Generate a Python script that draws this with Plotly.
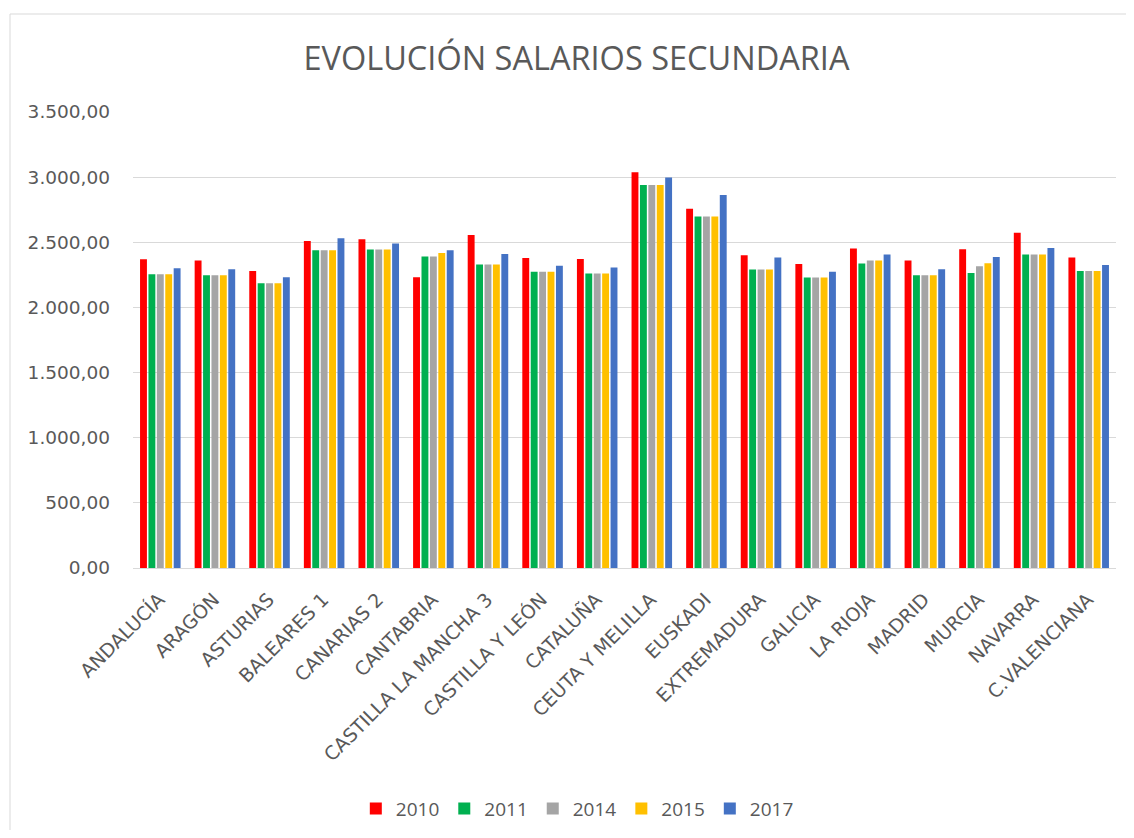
import plotly.graph_objects as go

categories = ["ANDALUCÍA", "ARAGÓN", "ASTURIAS", "BALEARES 1", "CANARIAS 2", "CANTABRIA",
              "CASTILLA LA MANCHA 3", "CASTILLA Y LEÓN", "CATALUÑA", "CEUTA Y MELILLA",
              "EUSKADI", "EXTREMADURA", "GALICIA", "LA RIOJA", "MADRID", "MURCIA",
              "NAVARRA", "C.VALENCIANA"]

s2010 = [2370, 2360, 2280, 2510, 2523, 2232, 2556, 2380, 2372, 3038, 2758, 2400, 2334, 2452, 2360, 2446, 2574, 2383]
s2011 = [2255, 2247, 2186, 2439, 2444, 2390, 2329, 2273, 2260, 2939, 2697, 2291, 2230, 2337, 2247, 2265, 2406, 2280]
s2014 = [2255, 2247, 2186, 2439, 2444, 2390, 2329, 2273, 2260, 2939, 2697, 2291, 2230, 2360, 2247, 2316, 2406, 2280]
s2015 = [2255, 2247, 2186, 2439, 2444, 2418, 2329, 2273, 2260, 2939, 2697, 2291, 2230, 2360, 2247, 2339, 2406, 2280]
s2017 = [2301, 2293, 2232, 2531, 2490, 2439, 2411, 2319, 2306, 2998, 2862, 2383, 2273, 2406, 2293, 2388, 2456, 2326]

series = [("2010", s2010, "#FF0000"), ("2011", s2011, "#00B050"), ("2014", s2014, "#A5A5A5"),
          ("2015", s2015, "#FFC000"), ("2017", s2017, "#4472C4")]

TFONT = "Open Sans, sans-serif"
FONT = "DejaVu Sans, Open Sans, sans-serif"
LFONT = "Open Sans, sans-serif"
TXT = "#595959"

W, H = 1118, 822
L, T = 125, 104
PW, PH = 983, 456
R = W - L - PW
B = H - T - PH

fig = go.Figure()
for name, vals, col in series:
    fig.add_trace(go.Bar(x=categories, y=vals, name=name, marker_color=col,
                         marker_line_width=0))

fig.update_layout(
    width=W, height=H,
    paper_bgcolor="white", plot_bgcolor="white",
    margin=dict(l=L, r=R, t=T, b=B, autoexpand=False),
    title=dict(text="EVOLUCIÓN SALARIOS SECUNDARIA", x=568.5 / W, xanchor="center",
               y=1 - 51 / H, yanchor="middle",
               font=dict(family=TFONT, size=32.5, color=TXT)),
    barmode="group", bargap=0.23, bargroupgap=0.18,
    separators=",.",
    font=dict(family=FONT, color=TXT, size=17),
    legend=dict(orientation="h", x=0.452, xanchor="center", y=-0.528, yanchor="middle",
                font=dict(family=LFONT, size=19, color=TXT), itemwidth=30,
                traceorder="normal"),
    showlegend=True,
)
fig.update_yaxes(range=[0, 3500], dtick=500, tickformat=",.2f", showgrid=True,
                 gridcolor="#D9D9D9", gridwidth=1, zeroline=False, showline=False,
                 ticks="", tickfont=dict(size=18.5, color=TXT), ticklabelstandoff=22)
fig.update_xaxes(tickangle=-45, showline=True, linecolor="#D9D9D9", linewidth=1,
                 ticks="", tickfont=dict(size=19, color=TXT), showgrid=False,
                 ticklabelstandoff=12, ticklabelshift=-1)

# chart-area border
bx = (2 - L) / PW
by = (T + PH - 6) / PH
fig.add_shape(type="line", xref="paper", yref="paper", x0=bx, x1=1.05,
              y0=by, y1=by, line=dict(color="#D9D9D9", width=1))
fig.add_shape(type="line", xref="paper", yref="paper", x0=bx, x1=bx,
              y0=by, y1=-1.0, line=dict(color="#D9D9D9", width=1))

fig.write_html("out.html")
